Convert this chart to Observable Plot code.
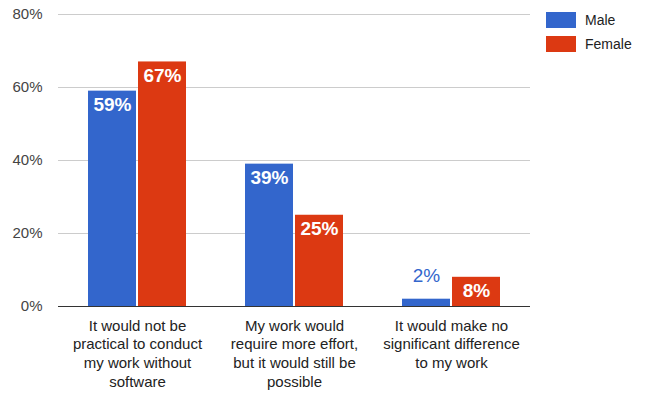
<!DOCTYPE html>
<html>
<head>
<meta charset="utf-8">
<script src="https://cdn.jsdelivr.net/npm/d3@7"></script>
<script src="https://cdn.jsdelivr.net/npm/@observablehq/plot@0.6"></script>
<style>
  body { margin: 0; background: #fff; font-family: "Liberation Sans", Arial, sans-serif; }
  #wrap { position: relative; width: 649px; height: 393px; }
  #legend { position: absolute; left: 546px; top: 12px; font-size: 14px; color: #222; }
  .item { display: flex; align-items: center; height: 16px; margin-bottom: 8px; }
  .sw { width: 30px; height: 16px; margin-right: 9px; }
</style>
</head>
<body>
<div id="wrap"><div id="legend"></div></div>
<script>
const categories = [
  "It would not be\npractical to conduct\nmy work without\nsoftware",
  "My work would\nrequire more effort,\nbut it would still be\npossible",
  "It would make no\nsignificant difference\nto my work"
];
const series = ["Male", "Female"];
const maleValues = [0.59, 0.39, 0.02];
const femaleValues = [0.67, 0.25, 0.08];
const yTicks = [0, 0.2, 0.4, 0.6, 0.8];
const colors = {Male: "#3366cc", Female: "#dc3912"};

const data = [];
categories.forEach((c, i) => {
  data.push({category: c, sex: "Male", value: maleValues[i]});
  data.push({category: c, sex: "Female", value: femaleValues[i]});
});
const male = data.filter(d => d.sex === "Male");
const female = data.filter(d => d.sex === "Female");
const inside = d => d.value >= 0.05;
const fmt = d3.format(".0%");

const chart = Plot.plot({
  width: 649,
  height: 393,
  marginLeft: 58,
  marginRight: 119,
  marginTop: 14,
  marginBottom: 87,
  style: {fontFamily: "'Liberation Sans', Arial, sans-serif", fontSize: "14px", color: "#444"},
  x: {domain: categories, paddingInner: 0.375, paddingOuter: 0.19, axis: null},
  y: {domain: [0, 0.8], axis: null},
  marks: [
    Plot.gridY(yTicks, {stroke: "#cccccc", strokeOpacity: 1}),
    Plot.axisY(yTicks, {tickFormat: fmt, tickSize: 0, tickPadding: 16, fontSize: 15, fill: "#444", label: null}),
    Plot.barY(male, {x: "category", y: "value", fill: colors.Male, insetRight: 50}),
    Plot.barY(female, {x: "category", y: "value", fill: colors.Female, insetLeft: 50}),
    Plot.ruleY([0], {stroke: "#333"}),
    Plot.text(male.filter(inside), {x: "category", y: "value", text: d => fmt(d.value), dx: -25, dy: 14, fill: "white", fontWeight: "bold", fontSize: 19}),
    Plot.text(female.filter(inside), {x: "category", y: "value", text: d => fmt(d.value), dx: 25, dy: 14, fill: "white", fontWeight: "bold", fontSize: 19}),
    Plot.text(male.filter(d => !inside(d)), {x: "category", y: "value", text: d => fmt(d.value), dx: -25, dy: -23, fill: colors.Male, fontSize: 19}),
    Plot.text(female.filter(d => !inside(d)), {x: "category", y: "value", text: d => fmt(d.value), dx: 25, dy: -23, fill: colors.Female, fontSize: 19}),
    Plot.axisX(categories, {tickSize: 0, tickPadding: 11, fontSize: 15, fill: "#222", lineHeight: 1.24, textAnchor: "middle", label: null})
  ]
});
document.getElementById("wrap").prepend(chart);

const legend = document.getElementById("legend");
series.forEach(s => {
  const item = document.createElement("div");
  item.className = "item";
  const sw = document.createElement("div");
  sw.className = "sw";
  sw.style.background = colors[s];
  const t = document.createElement("span");
  t.textContent = s;
  item.append(sw, t);
  legend.append(item);
});
</script>
</body>
</html>
